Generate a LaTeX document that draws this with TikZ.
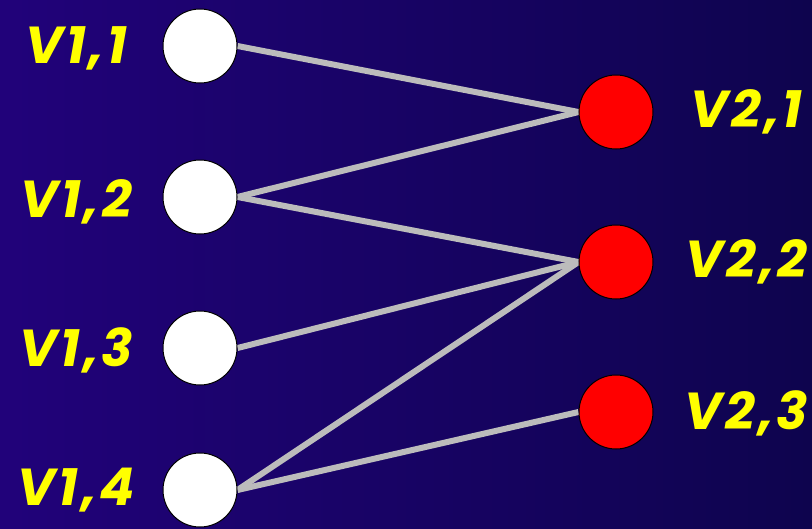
\documentclass[tikz,border=0pt]{standalone}
\usepackage{fontspec}
\usepackage{tikz}
\usetikzlibrary{positioning,calc,backgrounds}
\newfontfamily\lblfont[LetterSpace=6]{Poppins}
\definecolor{bgLeft}{RGB}{33,2,122}
\definecolor{bgRight}{RGB}{14,4,78}
\definecolor{edgeGray}{RGB}{188,188,188}
\definecolor{lblYellow}{RGB}{255,255,0}
\tikzset{
	lvert/.style={
		circle,
		draw=black,
		line width=1pt,
		fill=white,
		minimum size=74pt,
		inner sep=0pt
	},
	rvert/.style={lvert, fill=red},
	vlbl/.style={
		text=lblYellow,
		font=\lblfont\bfseries\itshape\fontsize{52}{60}\selectfont,
		inner sep=0pt
	},
	gedge/.style={line width=6pt, edgeGray}
}

\begin{document}
\begin{tikzpicture}[x=1pt, y=-1pt]
		\useasboundingbox (0,0) rectangle (812,528);
		% left column
		\node[lvert] (v11) at (200,46) {};
		\node[lvert] (v12) at (200,197) {};
		\node[lvert] (v13) at (200,348) {};
		\node[lvert] (v14) at (200,490) {};
		% right column
		\node[rvert] (v21) at (616,112) {};
		\node[rvert] (v22) at (616,262) {};
		\node[rvert] (v23) at (616,412) {};
		\node[vlbl] (l11) at (76,48) {V1,1};
		\node[vlbl] (l12) at (76,202) {V1,2};
		\node[vlbl] (l13) at (76,350) {V1,3};
		\node[vlbl] (l14) at (76,490) {V1,4};
		\node[vlbl] (l21) at (746,112) {V2,1};
		\node[vlbl] (l22) at (746,262) {V2,2};
		\node[vlbl] (l23) at (746,413) {V2,3};
		\begin{pgfonlayer}{background}
			\shade[left color=bgLeft, right color=bgRight] (0,0) rectangle (812,528);
			\draw[gedge] (v11.east) -- (v21.west);
			\draw[gedge] (v12.east) -- (v21.west);
			\draw[gedge] (v12.east) -- (v22.west);
			\draw[gedge] (v13.east) -- (v22.west);
			\draw[gedge] (v14.east) -- (v22.west);
			\draw[gedge] (v14.east) -- (v23.west);
		\end{pgfonlayer}
	\end{tikzpicture}
\end{document}
